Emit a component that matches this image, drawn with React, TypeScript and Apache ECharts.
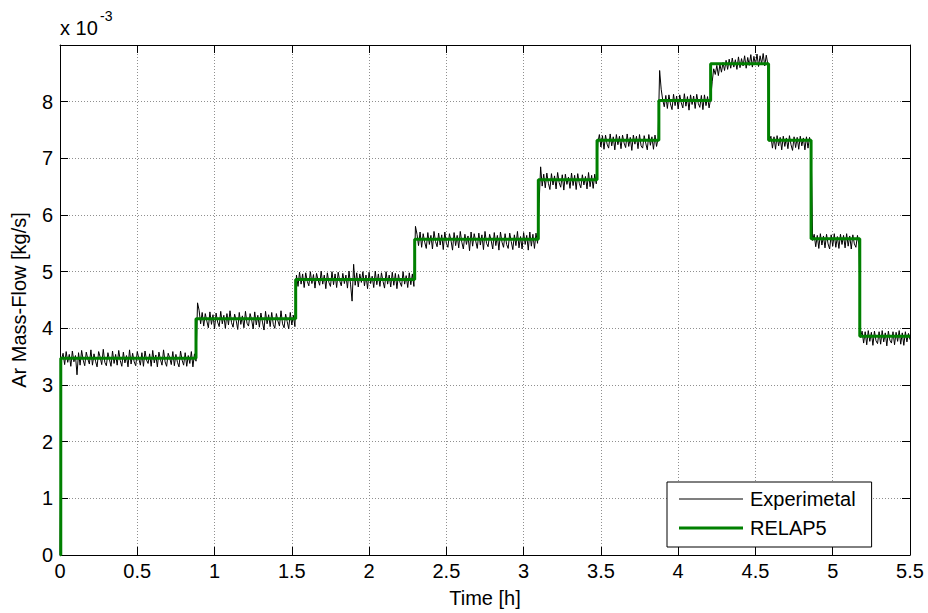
import React, { useEffect, useRef } from "react";
import * as echarts from "echarts";

// Values are in units of 10^-3 kg/s (the axis shows "x 10^-3").
const X_MAX = 5.5;
const Y_MAX = 9;

// RELAP5 step curve: time [h] of each change and the level that starts there
const relapTime = [0, 0.005, 0.88, 1.525, 2.295, 3.095, 3.475, 3.875, 4.21, 4.585, 4.86, 5.175, 5.5];
const relapFlow = [0, 3.47, 4.17, 4.86, 5.57, 6.62, 7.32, 8.02, 8.67, 7.32, 5.58, 3.86, 3.86];

const EXP_DT = 0.01;
const expStart = [0];
const expSeg1 = [
  3.45, 3.56, 3.36, 3.59, 3.40, 3.54, 3.33, 3.60, 3.41, 3.52, 3.18, 3.57, 3.35, 3.61, 3.44, 3.34, 3.58, 3.46, 3.37, 3.62,
  3.35, 3.55, 3.42, 3.32, 3.59, 3.49, 3.36, 3.63, 3.40, 3.34, 3.57, 3.45, 3.33, 3.60, 3.38, 3.54, 3.35, 3.61, 3.43, 3.33,
  3.58, 3.39, 3.52, 3.32, 3.62, 3.37, 3.56, 3.41, 3.34, 3.59, 3.47, 3.35, 3.57, 3.33, 3.60, 3.44, 3.38, 3.55, 3.33, 3.61,
  3.39, 3.53, 3.32, 3.58, 3.45, 3.35, 3.62, 3.41, 3.33, 3.56, 3.48, 3.36, 3.59, 3.34, 3.54, 3.40, 3.32, 3.60, 3.44, 3.35,
  3.57, 3.33, 3.52, 3.38, 3.59, 3.32, 3.55, 3.42,
];
const expSeg2 = [
  4.45, 4.32, 4.08, 4.28, 4.04, 4.26, 4.13, 4.01, 4.29, 4.07, 4.24, 3.99, 4.27, 4.11, 4.03, 4.30, 4.08, 4.23, 4.00, 4.26,
  4.06, 4.31, 4.10, 4.02, 4.25, 4.14, 3.98, 4.28, 4.07, 4.22, 4.01, 4.30, 4.09, 4.04, 4.26, 4.15, 3.99, 4.29, 4.06, 4.23,
  4.02, 4.27, 4.11, 3.97, 4.30, 4.08, 4.24, 4.03, 4.28, 4.07, 4.00, 4.26, 4.13, 4.04, 4.31, 4.08, 4.01, 4.25, 4.12, 3.99,
  4.28, 4.06, 4.23, 4.03,
];
const expSeg3 = [
  4.94, 4.74, 4.99, 4.78, 4.96, 4.72, 4.98, 4.83, 4.75, 5.00, 4.79, 4.95, 4.71, 4.97, 4.85, 4.76, 5.01, 4.78, 4.94, 4.70,
  4.98, 4.81, 4.74, 5.00, 4.77, 4.96, 4.72, 4.99, 4.84, 4.75, 4.97, 4.79, 4.94, 4.71, 5.01, 4.78, 4.48, 5.13, 4.76, 4.98,
  4.73, 4.96, 4.81, 5.00, 4.75, 4.94, 4.70, 4.99, 4.79, 4.92, 4.72, 5.01, 4.77, 4.96, 4.74, 4.98, 4.83, 4.71, 5.00, 4.78,
  4.94, 4.73, 4.99, 4.76, 4.97, 4.70, 4.95, 4.81, 4.74, 5.00, 4.78, 4.93, 4.72, 4.98, 4.77, 4.96, 4.74,
];
const expSeg4 = [
  5.80, 5.66, 5.46, 5.70, 5.43, 5.67, 5.52, 5.41, 5.69, 5.48, 5.64, 5.40, 5.71, 5.53, 5.44, 5.68, 5.47, 5.65, 5.39, 5.70,
  5.50, 5.43, 5.67, 5.55, 5.38, 5.69, 5.46, 5.64, 5.42, 5.71, 5.52, 5.40, 5.66, 5.48, 5.63, 5.37, 5.70, 5.45, 5.67, 5.54,
  5.41, 5.68, 5.47, 5.65, 5.39, 5.71, 5.50, 5.44, 5.66, 5.55, 5.40, 5.69, 5.46, 5.64, 5.38, 5.70, 5.52, 5.43, 5.67, 5.48,
  5.41, 5.68, 5.53, 5.39, 5.65, 5.46, 5.71, 5.42, 5.62, 5.40, 5.69, 5.48, 5.64, 5.38, 5.70, 5.45, 5.66, 5.41, 5.68, 5.50,
];
const expSeg5 = [
  6.20, 6.85, 6.51, 6.72, 6.48, 6.74, 6.56, 6.45, 6.73, 6.53, 6.69, 6.46, 6.75, 6.57, 6.49, 6.71, 6.44, 6.72, 6.54, 6.67,
  6.47, 6.74, 6.52, 6.70, 6.45, 6.73, 6.56, 6.48, 6.71, 6.53, 6.68, 6.46, 6.75, 6.50, 6.70, 6.47, 6.72, 6.55,
];
const expSeg6 = [
  7.27, 7.42, 7.20, 7.40, 7.16, 7.41, 7.25, 7.18, 7.43, 7.22, 7.38, 7.15, 7.42, 7.24, 7.39, 7.17, 7.41, 7.27, 7.19, 7.43,
  7.21, 7.37, 7.14, 7.41, 7.25, 7.39, 7.17, 7.42, 7.22, 7.18, 7.40, 7.27, 7.15, 7.42, 7.23, 7.38, 7.16, 7.41, 7.21, 7.35,
];
const expSeg7 = [
  8.55, 8.22, 8.03, 7.91, 8.11, 7.88, 8.12, 7.96, 7.86, 8.13, 7.93, 8.10, 7.87, 8.12, 7.98, 7.89, 8.14, 7.92, 8.09, 7.85,
  8.12, 7.95, 8.10, 7.88, 8.13, 7.97, 7.90, 8.11, 7.86, 8.12, 7.93, 8.09, 7.89, 8.05,
];
const expSeg8 = [
  8.35, 8.58, 8.48, 8.64, 8.46, 8.66, 8.52, 8.69, 8.55, 8.73, 8.57, 8.75, 8.59, 8.77, 8.61, 8.74, 8.57, 8.79, 8.60, 8.76,
  8.63, 8.81, 8.59, 8.78, 8.64, 8.83, 8.61, 8.80, 8.65, 8.84, 8.62, 8.81, 8.67, 8.85, 8.63, 8.82, 8.66,
];
const expSeg9 = [
  7.30, 7.39, 7.18, 7.38, 7.16, 7.40, 7.22, 7.37, 7.15, 7.39, 7.21, 7.36, 7.17, 7.40, 7.24, 7.14, 7.38, 7.19, 7.37, 7.16,
  7.39, 7.22, 7.36, 7.15, 7.38, 7.18, 7.37, 7.25,
];
const expSeg10 = [
  5.55, 5.66, 5.44, 5.64, 5.41, 5.67, 5.47, 5.63, 5.42, 5.66, 5.49, 5.40, 5.65, 5.45, 5.67, 5.43, 5.62, 5.41, 5.66, 5.48,
  5.64, 5.42, 5.67, 5.45, 5.63, 5.40, 5.65, 5.49, 5.43, 5.64, 5.47,
];
const expSeg11 = [
  3.84, 3.95, 3.74, 3.94, 3.71, 3.96, 3.77, 3.93, 3.70, 3.95, 3.78, 3.73, 3.94, 3.72, 3.96, 3.76, 3.92, 3.69, 3.95, 3.79,
  3.74, 3.94, 3.71, 3.93, 3.77, 3.96, 3.72, 3.92, 3.70, 3.94, 3.76, 3.91, 3.80,
];

const EXP_NAME = "Experimetal";
const RELAP_NAME = "RELAP5";
const X_NAME = "Time [h]";
const Y_NAME = "Ar Mass-Flow [kg/s]";

const FONT = "'Liberation Sans', Arial, Helvetica, sans-serif";

export default function App() {
  const ref = useRef<HTMLDivElement>(null);

  useEffect(() => {
    if (!ref.current) return;
    const chart = echarts.init(ref.current, undefined, { renderer: "svg" });

    const expValues = [
      ...expStart, ...expSeg1, ...expSeg2, ...expSeg3, ...expSeg4, ...expSeg5, ...expSeg6,
      ...expSeg7, ...expSeg8, ...expSeg9, ...expSeg10, ...expSeg11,
    ];
    const expData = expValues.map((v, i) => [Math.round(i * EXP_DT * 1000) / 1000, v]);
    const relapData = relapTime.map((t, i) => [t, relapFlow[i]]);

    const gridLine = { show: true, lineStyle: { color: "#8f8f8f", type: [1, 2] as any, width: 1 } };
    const axisLine = { show: true, onZero: false, lineStyle: { color: "#000", width: 1 } };
    const tick = { show: true, inside: true, length: 8, lineStyle: { color: "#000", width: 1 } };
    const label = { color: "#000", fontSize: 20, fontFamily: FONT };

    chart.setOption({
      animation: false,
      backgroundColor: "#fff",
      grid: { left: 60, top: 45, width: 850, height: 512, show: false },
      xAxis: [
        {
          type: "value", min: 0, max: X_MAX, interval: 0.5, position: "bottom",
          axisLine, axisTick: tick, splitLine: gridLine,
          axisLabel: { ...label, margin: 6, formatter: (v: number) => String(v) },
          name: X_NAME, nameLocation: "middle", nameGap: 33,
          nameTextStyle: { ...label },
        },
        {
          type: "value", min: 0, max: X_MAX, interval: 0.5, position: "top",
          axisLine, axisTick: tick, splitLine: { show: false }, axisLabel: { show: false },
        },
      ],
      yAxis: [
        {
          type: "value", min: 0, max: Y_MAX, interval: 1, position: "left",
          axisLine, axisTick: tick, splitLine: gridLine,
          axisLabel: { ...label, margin: 7, formatter: (v: number) => (v === Y_MAX ? "" : String(v)) },
          name: Y_NAME, nameLocation: "middle", nameGap: 31,
          nameTextStyle: { ...label },
        },
        {
          type: "value", min: 0, max: Y_MAX, interval: 1, position: "right",
          axisLine, axisTick: tick, splitLine: { show: false }, axisLabel: { show: false },
        },
      ],
      legend: {
        left: 667, top: 482, orient: "vertical",
        padding: [7, 16, 9, 12],
        itemWidth: 64, itemHeight: 20, itemGap: 9,
        symbolKeepAspect: true,
        backgroundColor: "#fff", borderColor: "#000", borderWidth: 1, borderRadius: 0,
        textStyle: { color: "#000", fontSize: 20, fontFamily: FONT, padding: [0, 0, 0, 2] },
        data: [
          { name: EXP_NAME, icon: "path://M0,0H64V1H0Z" },
          { name: RELAP_NAME, icon: "path://M0,0H64V3H0Z" },
        ],
      },
      graphic: [
        {
          type: "text", left: 60, top: 18, silent: true,
          style: { text: "x 10", fontSize: 20, fontFamily: FONT, fill: "#000" },
        },
        {
          type: "text", left: 100, top: 9, silent: true,
          style: { text: "-3", fontSize: 14, fontFamily: FONT, fill: "#000" },
        },
      ],
      series: [
        {
          name: EXP_NAME, type: "line", xAxisIndex: 0, yAxisIndex: 0,
          data: expData, symbol: "none", showSymbol: false,
          lineStyle: { color: "#000", width: 1 }, itemStyle: { color: "#000" },
          z: 2,
        },
        {
          name: RELAP_NAME, type: "line", xAxisIndex: 0, yAxisIndex: 0,
          data: relapData, step: "end", symbol: "none", showSymbol: false,
          lineStyle: { color: "#008000", width: 3 }, itemStyle: { color: "#008000" },
          z: 3,
        },
      ],
    });

    return () => chart.dispose();
  }, []);

  return (
    <div
      ref={ref}
      style={{ position: "absolute", left: 0, top: 0, width: 928, height: 613, background: "#fff" }}
    />
  );
}
